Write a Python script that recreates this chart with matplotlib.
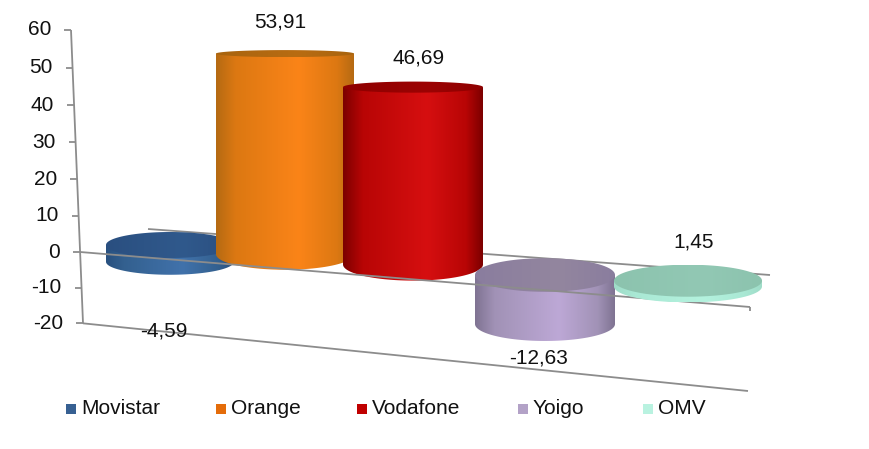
import matplotlib
matplotlib.use("Agg")
import matplotlib.pyplot as plt
import numpy as np
from matplotlib.colors import LinearSegmentedColormap
from matplotlib.patches import Polygon, Rectangle

plt.rcParams["font.family"] = ["Liberation Sans", "DejaVu Sans"]

OPERATORS = ["Movistar", "Orange", "Vodafone", "Yoigo", "OMV"]
VALUES = [-4.59, 53.91, 46.69, -12.63, 1.45]
LABELS = ["-4,59", "53,91", "46,69", "-12,63", "1,45"]
Y_TICKS = [60, 50, 40, 30, 20, 10, 0, -10, -20]

# side colours: edge, shoulder, centre; then the colours of the top face
SIDE_EDGE = ["#28507f", "#b56a12", "#7c0000", "#7f7392", "#9fdcc8"]
SIDE_SHOULDER = ["#33608f", "#dc7812", "#b80505", "#a192b6", "#a9e8d4"]
SIDE_MID = ["#4172ab", "#fb8418", "#d60f10", "#bda8d6", "#b4f2de"]
TOP_EDGE = ["#2a4f80", "#a8640f", "#8e0000", "#8a7d9e", "#8cc3ae"]
TOP_MID = ["#30598c", "#b86c12", "#9c0303", "#93869f", "#92c8b4"]
SWATCH = ["#376092", "#e46c0a", "#c00000", "#b3a2c7", "#b9f2e0"]

# layout in canvas pixels
W, H = 869, 449
CENTER_X = [170, 285, 413, 545, 688]
HALF_W = [64, 69, 70, 70, 74]
MAX_FLAT = [13, 17, 17, 17, 16]
LABEL_POS = [(164, 331), (280, 22), (419, 58), (539, 358), (694, 242)]
LEGEND_X = [66, 216, 357, 518, 643]
LEGEND_Y = 409
GRID = "#8c8c8c"


def zero_y(x):
    return 245 + 0.08 * (x - 170)


def bar_y(x, v):
    return zero_y(x) - (3.55 + 0.0006 * x) * v


def axis_y(v):
    return 252 - 3.6 * v - 0.00167 * v ** 2


def axis_x(y):
    return 71 + (y - 30) * 12 / 293


def flatness(y, cap):
    # the ellipses get rounder lower down in the perspective
    return min(3 + (y - 45) * 0.06, cap)


def shade(ax, path_pts, x0, x1, y0, y1, stops, z):
    cmap = LinearSegmentedColormap.from_list("c", stops)
    grad = np.linspace(0, 1, 256).reshape(1, -1)
    im = ax.imshow(grad, cmap=cmap, extent=(x0, x1, y1, y0), aspect="auto", zorder=z)
    clip = Polygon(path_pts, closed=True, transform=ax.transData, fc="none", ec="none")
    ax.add_patch(clip)
    im.set_clip_path(clip)


def cylinder(ax, i, z):
    cx = CENTER_X[i]
    hw = HALF_W[i]
    y_zero = zero_y(cx)
    y_val = bar_y(cx, VALUES[i])
    y_top, y_bot = min(y_zero, y_val), max(y_zero, y_val)
    b_top, b_bot = flatness(y_top, MAX_FLAT[i]), flatness(y_bot, MAX_FLAT[i])
    t = np.linspace(0, np.pi, 80)
    side = np.column_stack([cx + hw * np.cos(t), y_bot + b_bot * np.sin(t)])
    side = np.vstack([side, [[cx - hw, y_top]], [[cx + hw, y_top]]])
    stops = [(0, SIDE_EDGE[i]), (0.14, SIDE_SHOULDER[i]), (0.6, SIDE_MID[i]),
             (0.88, SIDE_SHOULDER[i]), (1, SIDE_EDGE[i])]
    shade(ax, side, cx - hw, cx + hw, y_top - b_top, y_bot + b_bot, stops, z)
    t = np.linspace(0, 2 * np.pi, 160)
    top = np.column_stack([cx + hw * np.cos(t), y_top + b_top * np.sin(t)])
    stops = [(0, TOP_EDGE[i]), (0.6, TOP_MID[i]), (1, TOP_EDGE[i])]
    shade(ax, top, cx - hw, cx + hw, y_top - b_top, y_top + b_top, stops, z + 0.1)


fig = plt.figure(figsize=(W / 100, H / 100), dpi=100)
ax = fig.add_axes([0, 0, 1, 1])
ax.axis("off")

# floor and walls
line = dict(color=GRID, lw=1.3, solid_capstyle="butt")
ax.plot([148, 770], [229, 275], zorder=1, **line)
ax.plot([axis_x(axis_y(-20)), 748], [axis_y(-20), 391], zorder=1, **line)

# Movistar first, the rest overlap from left to right
for order, i in enumerate([0, 1, 2, 3]):
    cylinder(ax, i, 2 + order)

ax.plot([axis_x(axis_y(0)), 750], [axis_y(0), 307], zorder=7, **line)
ax.plot([750, 750], [307, 311], zorder=7, **line)
cylinder(ax, 4, 8)

ax.plot([axis_x(axis_y(60)), axis_x(axis_y(-20))], [axis_y(60), axis_y(-20)], zorder=7, **line)
for v in Y_TICKS:
    y = axis_y(v)
    x = axis_x(y)
    ax.plot([x - 7, x], [y, y], zorder=7, **line)
    ax.text(x - 20, y, str(v), ha="right", va="center", fontsize=15, color="#111111", zorder=10)

for text, (x, y) in zip(LABELS, LABEL_POS):
    ax.text(x, y, text, ha="center", va="center", fontsize=15, color="#111111", zorder=10)

for name, x, c in zip(OPERATORS, LEGEND_X, SWATCH):
    ax.add_patch(Rectangle((x, LEGEND_Y - 5), 10, 10, fc=c, ec="none", zorder=10))
    ax.text(x + 15, LEGEND_Y, name, ha="left", va="center", fontsize=15, color="#111111", zorder=10)

ax.set_xlim(0, W)
ax.set_ylim(H, 0)
fig.savefig("out.png", dpi=100, facecolor="white")
